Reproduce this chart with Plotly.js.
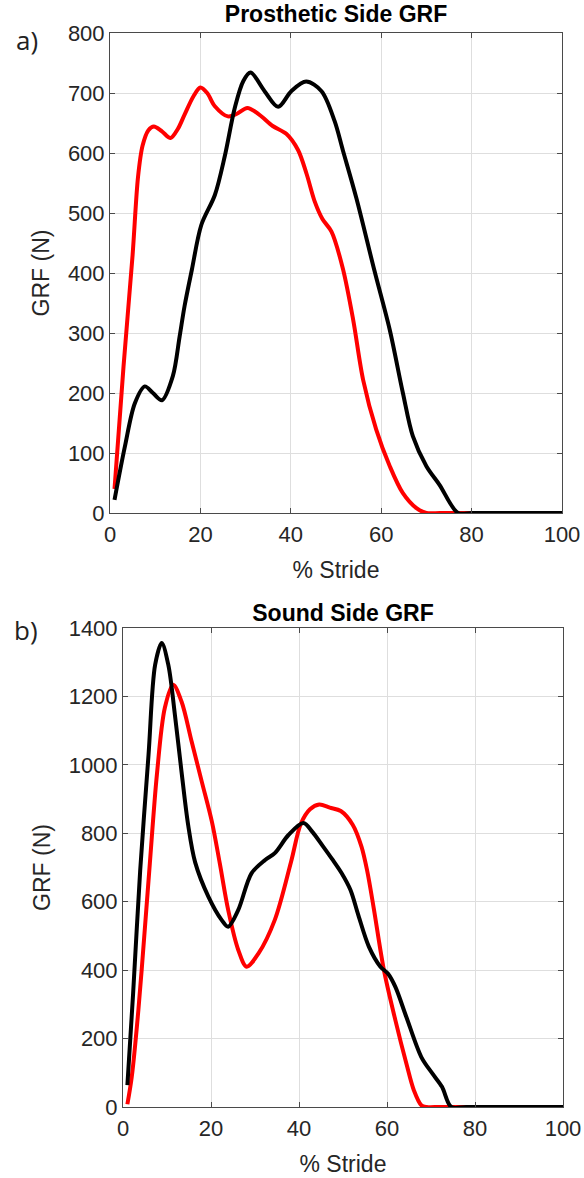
<!DOCTYPE html>
<html>
<head>
<meta charset="utf-8">
<script src="https://cdn.plot.ly/plotly-3.0.1.min.js"></script>
<style>
  html, body { margin: 0; padding: 0; background: #fff; }
  #top { position: absolute; left: 0; top: 0; width: 584px; height: 589px; }
  #bot { position: absolute; left: 0; top: 589px; width: 584px; height: 589px; }
</style>
</head>
<body>
<div id="top"></div>
<div id="bot"></div>
<script>
// ---- Data ----
const strideTicks = [0, 20, 40, 60, 80, 100];
const prosGrfTicks = [0, 100, 200, 300, 400, 500, 600, 700, 800];
const soundGrfTicks = [0, 200, 400, 600, 800, 1000, 1200, 1400];

// a) Prosthetic side GRF — red curve
const prosRedX = [1, 3, 5, 6.2, 7.2, 8.5, 9.7, 11.5, 13.4, 15, 16.5, 18.5, 20, 21.5, 23.2, 26.1, 28, 30.4, 33, 36, 39, 41.6, 43.5, 45.3, 47, 49, 51.5, 53.8, 56, 58.9, 61.9, 64.8, 67.8, 70, 73, 77, 85, 100];
const prosRedY = [40, 245, 430, 560, 612, 638, 644, 636, 625, 640, 664, 695, 709, 700, 678, 661, 665, 675, 664, 645, 632, 605, 565, 519, 490, 469, 408, 322, 222, 139, 78, 33, 8, 0, 0, 0, 0, 0];

// a) Prosthetic side GRF — black curve
const prosBlackX = [1, 3.3, 5.5, 7.7, 9.5, 11.5, 13.9, 15.4, 16.5, 18.1, 20.2, 23.2, 25.4, 27.6, 29.5, 31.1, 34.2, 37.2, 40.1, 43.4, 46.8, 49.7, 51.5, 54.5, 58.5, 61.9, 64.8, 67, 70, 72.9, 77, 80, 90, 100];
const prosBlackY = [22, 111, 183, 211, 200, 188, 228, 294, 345, 405, 480, 530, 595, 675, 720, 734, 703, 677, 703, 719, 703, 653, 605, 525, 404, 305, 200, 128, 78, 47, 0, 0, 0, 0];

// b) Sound side GRF — red curve
const soundRedX = [1, 2, 3.5, 5, 6.1, 7.7, 9.5, 11.4, 13.3, 15.6, 17.9, 20.2, 22, 23.9, 26.2, 28.1, 30.8, 34.5, 38.2, 40.4, 42.5, 44.6, 47, 49.5, 52.2, 54.2, 55.5, 57, 59.3, 61.9, 64.4, 66.1, 67.8, 69, 72, 80, 100];
const soundRedY = [8, 89, 284, 527, 712, 971, 1166, 1234, 1185, 1068, 951, 834, 712, 576, 459, 410, 449, 547, 717, 827, 870, 884, 875, 865, 825, 761, 690, 580, 400, 254, 127, 49, 5, 0, 0, 0, 0];

// b) Sound side GRF — black curve
const soundBlackX = [1, 2.3, 3.9, 5.8, 7.3, 8.8, 10.3, 11.8, 13.3, 14.8, 16.4, 19.4, 22.4, 23.9, 26.2, 29.2, 32.3, 34.5, 37.6, 41, 43, 45.5, 47.5, 49.7, 51.7, 53.5, 55.9, 58.5, 60.2, 61.9, 64.4, 67.8, 70.3, 72.5, 74.6, 78, 90, 100];
const soundBlackY = [64, 332, 690, 1029, 1292, 1356, 1292, 1146, 980, 825, 715, 615, 547, 527, 576, 683, 722, 742, 795, 830, 805, 761, 725, 683, 634, 560, 468, 410, 390, 351, 263, 146, 98, 59, 0, 0, 0, 0];

// ---- Styling ----
const FONT = 'Liberation Sans, Arial, Helvetica, sans-serif';
const AX_COL = '#4a4a4a';
const GRID_COL = '#dedede';
const TXT_COL = '#262626';

function axisBase(tickvals, range) {
  return {
    range: range,
    tickmode: 'array',
    tickvals: tickvals,
    showgrid: true,
    gridcolor: GRID_COL,
    gridwidth: 1,
    zeroline: false,
    showline: true,
    linecolor: AX_COL,
    linewidth: 1,
    mirror: 'ticks',
    ticks: 'inside',
    ticklen: 5,
    tickcolor: AX_COL,
    tickwidth: 1,
    tickfont: { family: FONT, size: 22, color: TXT_COL },
    fixedrange: true
  };
}

function line(x, y, color) {
  return {
    x: x, y: y, type: 'scatter', mode: 'lines',
    line: { color: color, width: 4, shape: 'spline', smoothing: 0.9 },
    hoverinfo: 'skip', showlegend: false
  };
}

function makeLayout(opts) {
  const xa = axisBase(strideTicks, [0, 100]);
  xa.ticklabelstandoff = 2;
  xa.title = { text: '% Stride', font: { family: FONT, size: 23, color: TXT_COL }, standoff: 15 };
  const ya = axisBase(opts.yticks, opts.yrange);
  ya.title = { text: 'GRF (N)', font: { family: FONT, size: 23, color: TXT_COL }, standoff: 11 };
  return {
    width: 584, height: 589,
    margin: opts.margin,
    paper_bgcolor: '#ffffff',
    plot_bgcolor: '#ffffff',
    showlegend: false,
    title: {
      text: opts.title,
      font: { family: FONT, size: 23, color: '#000000', weight: 'bold' },
      x: 0.5, xref: 'paper', xanchor: 'center',
      y: opts.titleY, yref: 'container', yanchor: 'middle'
    },
    xaxis: xa,
    yaxis: ya,
    annotations: [{
      text: opts.label, showarrow: false,
      xref: 'paper', yref: 'paper', x: opts.labelX, y: opts.labelY,
      xanchor: 'center', yanchor: 'middle',
      font: { family: 'Open Sans, Noto Sans, sans-serif', size: 26, color: '#222222' }
    }]
  };
}

const cfg = { displayModeBar: false, staticPlot: true };

Plotly.newPlot('top', [
  line(prosRedX, prosRedY, '#ff0000'),
  line(prosBlackX, prosBlackY, '#000000')
], makeLayout({
  title: 'Prosthetic Side GRF',
  titleY: 1 - 14 / 589,
  yticks: prosGrfTicks, yrange: [0, 800],
  margin: { l: 110, r: 22, t: 33, b: 76, pad: 0 },
  label: 'a)', labelX: (27 - 110) / 452, labelY: (513 - 40) / 480
}), cfg);

Plotly.newPlot('bot', [
  line(soundRedX, soundRedY, '#ff0000'),
  line(soundBlackX, soundBlackY, '#000000')
], makeLayout({
  title: 'Sound Side GRF',
  titleY: 1 - 24 / 589,
  yticks: soundGrfTicks, yrange: [0, 1400],
  margin: { l: 123, r: 21, t: 39, b: 71, pad: 0 },
  label: 'b)', labelX: (26 - 123) / 440, labelY: (518 - 41) / 479
}), cfg);
</script>
</body>
</html>
